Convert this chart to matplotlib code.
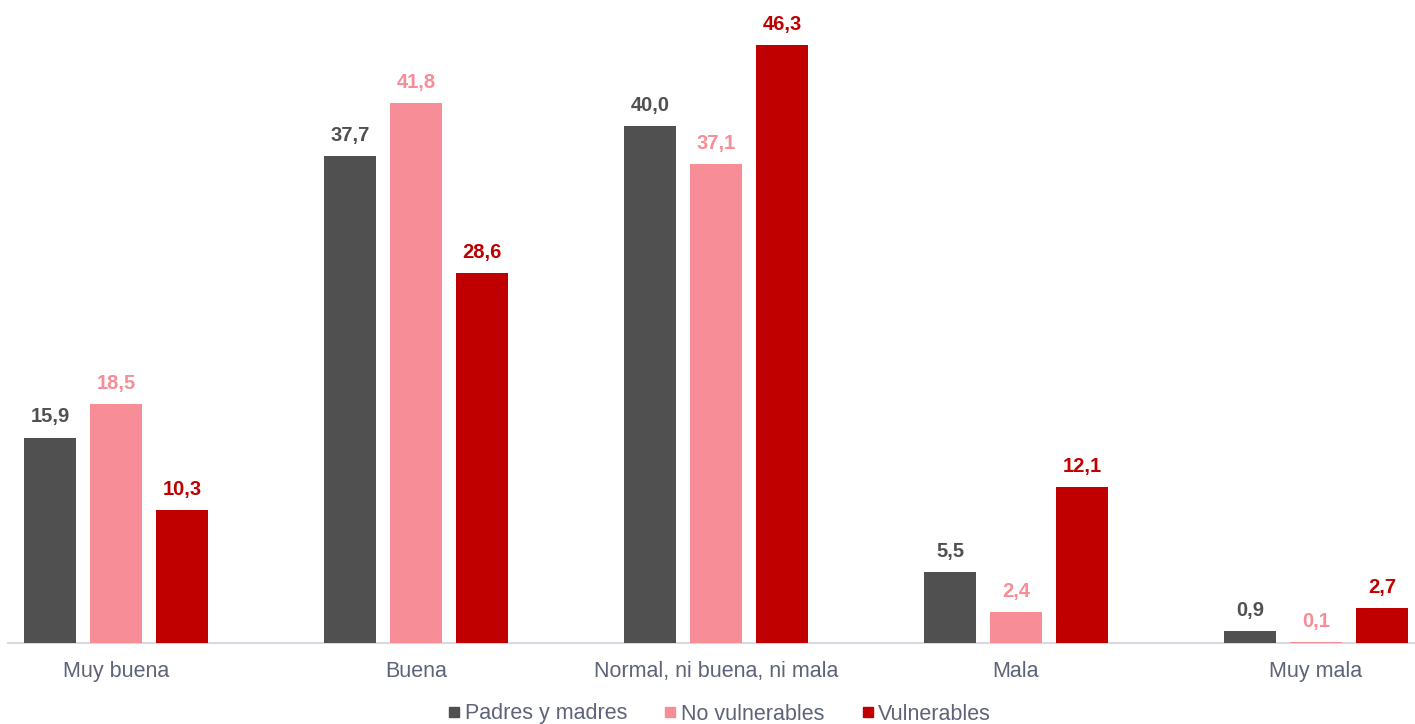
import matplotlib.pyplot as plt
from matplotlib.lines import Line2D
import numpy as np

plt.rcParams['font.family'] = ['Liberation Sans', 'DejaVu Sans']

categorias = ['Muy buena', 'Buena', 'Normal, ni buena, ni mala', 'Mala', 'Muy mala']
series = ['Padres y madres', 'No vulnerables', 'Vulnerables']
padres = [15.9, 37.7, 40.0, 5.5, 0.9]
no_vuln = [18.5, 41.8, 37.1, 2.4, 0.1]
vuln = [10.3, 28.6, 46.3, 12.1, 2.7]

colores = ['#505050', '#f68d97', '#c00000']
valores = [padres, no_vuln, vuln]

W, H = 1415, 724
fig = plt.figure(figsize=(W / 100, H / 100), dpi=100)
ax = fig.add_axes([8 / W, (H - 643) / H, (W - 8) / W, 643 / H])

x = np.arange(len(categorias))
ancho = 52 / 300
paso = 66 / 300
for j, (vals, col) in enumerate(zip(valores, colores)):
    pos = x + (j - 1) * paso
    bars = ax.bar(pos, vals, width=ancho, color=col, label=series[j], zorder=3)
    for b, v in zip(bars, vals):
        ax.annotate(f'{v:.1f}'.replace('.', ','), (b.get_x() + b.get_width() / 2, v),
                    xytext=(0, 8), textcoords='offset points', ha='center', va='bottom',
                    fontsize=14.5, fontweight='bold', color=col)

ax.set_xlim(-108 / 300, 4 + (1415 - 1316) / 300)
ax.set_ylim(0, 643 / 12.92)
ax.set_xticks(x)
ax.set_xticklabels(categorias, fontsize=15.5, color='#5f6378')
ax.tick_params(axis='x', length=0, pad=13)
ax.set_yticks([])
for s in ['top', 'right', 'left']:
    ax.spines[s].set_visible(False)
ax.spines['bottom'].set_color('#d9d9e2')
ax.spines['bottom'].set_linewidth(1.5)
ax.spines['bottom'].set_zorder(1)

handles = [Line2D([], [], marker='s', linestyle='none', markersize=7, color=c) for c in colores]
fig.legend(handles, series, loc='center', bbox_to_anchor=(712 / W, 1 - 714 / H), ncol=3,
           frameon=False, fontsize=15.5, handletextpad=-0.5, columnspacing=1.0,
           labelcolor='#5f6378')

fig.savefig('out.png', dpi=100)
